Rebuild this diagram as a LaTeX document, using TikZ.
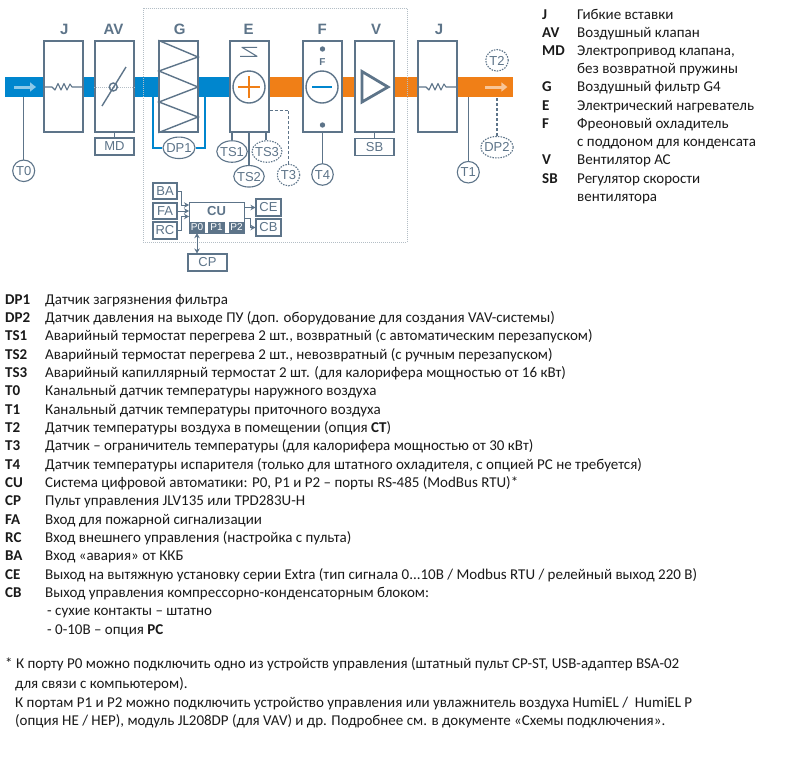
\documentclass[tikz,border=0pt]{standalone}
\usepackage{fontspec}
\setmainfont{Carlito}
\newfontfamily\diagfont{Liberation Sans}
\usetikzlibrary{arrows.meta,shapes.geometric}
\definecolor{slate}{HTML}{5D7489}
\definecolor{band1}{HTML}{0086CE}
\definecolor{band2}{HTML}{F07F17}
\definecolor{frameg}{HTML}{B4BEC6}
\definecolor{txt}{HTML}{1A1A1A}
\newcommand\ct[1]{\raisebox{-4.7pt}[0pt][0pt]{\makebox[0pt]{#1}}}
\tikzset{
 x=1pt,y=-1pt,
 unit/.style={draw=slate,line width=1.4pt,rectangle,inner sep=0pt,minimum width=39pt,minimum height=91pt,fill=white},
 ttl/.style={font=\diagfont\bfseries\fontsize{15}{15}\selectfont,text=slate,inner sep=0pt},
 lbl/.style={draw=slate,line width=1.1pt,rectangle,inner sep=0pt,font=\diagfont\fontsize{13}{13}\selectfont,text=slate,fill=white},
 sens/.style={draw=slate,line width=1.1pt,ellipse,inner sep=0pt,font=\diagfont\fontsize{13}{13}\selectfont,text=slate,fill=white,minimum height=21.5pt},
 sensd/.style={sens,dash pattern=on 1.5pt off 1.2pt},
 port/.style={rectangle,fill=slate,text=white,inner sep=0pt,font=\diagfont\fontsize{10}{10}\selectfont,minimum height=11pt},
 wire/.style={draw=slate,line width=1.1pt,line join=round},
 sym/.style={draw=slate,line width=1.4pt},
 flow/.style={-{Stealth[length=5pt,width=5.5pt]},draw=slate,line width=.9pt},
 band/.style={rectangle,inner sep=0pt,minimum height=20pt},
 key/.style={anchor=base west,inner sep=0pt,font=\fontsize{15}{15}\selectfont\bfseries,text=txt},
 val/.style={anchor=base west,inner sep=0pt,font=\fontsize{15}{15}\selectfont,text=txt},
}
\begin{document}
\begin{tikzpicture}
\useasboundingbox (0,0) rectangle (800,777);
\fill[white] (0,0) rectangle (800,777);
% bands
\node[band,fill=band1,minimum width=225pt,anchor=west] (bandb) at (5,87) {};
\node[band,fill=band2,minimum width=245pt,anchor=west] (bando) at (268,87) {};
\draw[-{Triangle[length=6pt,width=9pt]},line width=3pt,draw=band1!45!white] (bandb.west) ++(9,0) -- ++(22,0);
\draw[-{Triangle[length=6pt,width=9pt]},line width=3pt,draw=band2!45!white] (bando.east) ++(-28,0) -- ++(22,0);
% frame
\node[draw=frameg,dash pattern=on 1pt off 1pt,line width=.8pt,rectangle,inner sep=0pt,minimum width=264pt,minimum height=234pt,anchor=north west] (frame) at (143,8) {};
% units
\node[unit] (j1) at (63.5,86.5) {};
\node[unit] (av) at (114.5,86.5) {};
\node[unit] (g) at (178.5,86.5) {};
\node[unit] (e) at (249.5,86.5) {};
\node[unit] (f) at (322.5,86.5) {};
\node[unit] (v) at (374.5,86.5) {};
\node[unit] (j2) at (437.5,86.5) {};
% titles
\node[ttl] (tj1) at (64.3,29) {J};
\node[ttl] (tav) at (113.5,29) {AV};
\node[ttl] (tg) at (179.7,29) {G};
\node[ttl] (te) at (248.7,29) {E};
\node[ttl] (tf) at (322.3,29) {F};
\node[ttl] (tv) at (376,29) {V};
\node[ttl] (tj2) at (439,29) {J};
% J symbols
\draw[wire] (j1.west|-0,87) -- (52,87) -- (55,90) -- (58,83.5) -- (61,90) -- (64,83.5) -- (67,90) -- (70,84) -- (72,87) -- (j1.east|-0,87);
\draw[wire] (j2.west|-0,87) -- (426,87) -- (429,90) -- (432,83.5) -- (435,90) -- (438,83.5) -- (441,90) -- (444,84) -- (446,87) -- (j2.east|-0,87);
% AV
\draw[frameg,dash pattern=on 1pt off 1pt,line width=.8pt] (av.west|-0,87) -- (av.east|-0,87);
\draw[sym] (102,106) -- (126,67);
\draw[sym] (113.3,87) circle (4);
% G
\draw[sym] (g.north west) -- (198,57) -- (159,71) -- (198,87) -- (159,102) -- (198,117) -- (g.south west);
% E
\draw[wire] (257,47.3) -- (242,47.3) -- (257,56.3) -- (240,56.3);
\draw[sym] (249,87) circle (16);
\draw[band2,line width=1.5pt] (238,87) -- (260,87) (249,76) -- (249,98);
% F
\fill[slate] (322.5,49) circle (2.7) (322.5,125) circle (2.7);
\node[font=\diagfont\bfseries\fontsize{10}{10}\selectfont,text=slate,inner sep=0pt] (flabel) at (322.5,62) {F};
\draw[sym] (322,87) circle (16);
\draw[band1,line width=2pt] (312,87) -- (332,87);
% V
\draw[slate,line width=2.8pt,line join=miter] (362,71.5) -- (388,87) -- (362,102) -- cycle;
% lower boxes
\node[lbl,minimum width=39pt,minimum height=17pt] (md) at (114.5,146.5) {MD};
\node[lbl,minimum width=39pt,minimum height=17pt] (sb) at (374.5,147) {SB};
\draw[wire] (av.south) -- (md.north);
\draw[wire] (v.south) -- (sb.north);
\coordinate (eb1) at (232,132);
\coordinate (eb3) at (266,132);
% sensors
\node[sens,minimum width=22pt] (t0) at (23.7,170.8) {\ct{T0}};
\node[sens,minimum width=32pt] (dp1) at (179,147.8) {\ct{DP1}};
\node[sens,minimum width=30.5pt] (ts1) at (232,151.5) {\ct{TS1}};
\node[sens,minimum width=30.5pt] (ts2) at (249,176.3) {\ct{TS2}};
\node[sensd,minimum width=30pt] (ts3) at (267,151.5) {\ct{TS3}};
\node[sensd,minimum width=22.5pt] (t3) at (288.5,175) {\ct{T3}};
\node[sens,minimum width=21.5pt] (t4) at (322.5,174.5) {\ct{T4}};
\node[sens,minimum width=22pt] (t1) at (468.3,172.2) {\ct{T1}};
\node[sensd,minimum width=22.5pt] (t2) at (497,60.3) {\ct{T2}};
\node[sensd,minimum width=32.5pt] (dp2) at (497,147.2) {\ct{DP2}};
\draw[slate,line width=1.1pt] (t0) -- (t0|-bandb.south);
\draw[slate,line width=1.1pt] (t1) -- (t1|-bando.south);
\draw[slate,line width=1.1pt] (t4) -- (t4|-f.south);
\draw[slate,line width=1.1pt] (ts2) -- (ts2|-e.south);
\draw[slate,line width=1.1pt] (eb1) -- (eb1|-ts1.north);
\draw[slate,line width=1.1pt] (eb3) -- (eb3|-ts3.north);
\draw[slate,line width=1pt,densely dashed] (e.east|-0,110) -| (t3.north);
\draw[slate,line width=1.4pt,densely dashed] (dp2.north) -- (dp2|-bando.south);
\draw[band1,line width=1.4pt] (153,97) |- (dp1.west);
\draw[band1,line width=1.4pt] (205,97) |- (dp1.east);
% control
\node[lbl,minimum width=24pt,minimum height=16pt] (ba) at (165,191) {BA};
\node[lbl,minimum width=24pt,minimum height=16pt] (fa) at (165,211) {FA};
\node[lbl,minimum width=24pt,minimum height=17pt] (rc) at (165,230.5) {RC};
\node[lbl,minimum width=25pt,minimum height=17pt] (ce) at (268.5,207.5) {CE};
\node[lbl,minimum width=25pt,minimum height=17pt] (cb) at (268.5,227.5) {CB};
\node[lbl,minimum width=39pt,minimum height=17pt] (cp) at (207.5,262.5) {CP};
\node[draw=slate,line width=1.1pt,rectangle,inner sep=0pt,minimum width=55pt,minimum height=31pt,anchor=north west,fill=white] (cu) at (189,202) {};
\node[ttl,font=\diagfont\bfseries\fontsize{13}{13}\selectfont,anchor=center] (cutxt) at (216.5,211) {CU};
\node[port,minimum width=16pt] (p0) at (197,227.5) {P0};
\node[port,minimum width=17pt] (p1) at (216.5,227.5) {P1};
\node[port,minimum width=15pt] (p2) at (236.5,227.5) {P2};
\draw[flow] (ba.east) -- (181,191) -- (181,205) -- (cu.west|-0,205);
\draw[flow] (fa.east) -- (cu.west|-fa);
\draw[flow] (rc.east) -- (181,230.5) -- (181,216.5) -- (cu.west|-0,216.5);
\draw[flow] (cu.east|-ce) -- (ce.west);
\draw[flow] (cu.east|-0,218) -- (250,218) -- (250,227.5) -- (cb.west);
\draw[{Stealth[length=5pt,width=5.5pt]}-{Stealth[length=5pt,width=5.5pt]},draw=slate,line width=.9pt] (p0.south) -- (p0.south|-cp.north);
% right legend
\foreach \k/\t/\y/\n in {J/Гибкие вставки/19/a,AV/Воздушный клапан/37/b,MD/{Электропривод клапана,}/55/c,/без возвратной пружины/73/d,G/Воздушный фильтр G4/91/e,E/Электрический нагреватель/110/f,F/Фреоновый охладитель/128/g,/с поддоном для конденсата/146/h,V/Вентилятор АС/164/i,SB/Регулятор скорости/183/j,/вентилятора/201/k}{
 \node[key] (rk\n) at (542,\y) {\k};
 \node[val] (rv\n) at (577,\y) {\t};
}
% left list
\node[key] (k1) at (5,304) {DP1}; \node[val] (v1) at (45,304) {Датчик загрязнения фильтра};
\node[key] (k2) at (5,322) {DP2}; \node[val] (v2) at (45,322) {Датчик давления на выходе ПУ (доп. оборудование для создания VAV-системы)};
\node[key] (k3) at (5,340) {TS1}; \node[val] (v3) at (45,340) {Аварийный термостат перегрева 2 шт., возвратный (с автоматическим перезапуском)};
\node[key] (k4) at (5,359) {TS2}; \node[val] (v4) at (45,359) {Аварийный термостат перегрева 2 шт., невозвратный (с ручным перезапуском)};
\node[key] (k5) at (5,377) {TS3}; \node[val] (v5) at (45,377) {Аварийный капиллярный термостат 2 шт. (для калорифера мощностью от 16 кВт)};
\node[key] (k6) at (5,395) {T0}; \node[val] (v6) at (45,395) {Канальный датчик температуры наружного воздуха};
\node[key] (k7) at (5,414) {T1}; \node[val] (v7) at (45,414) {Канальный датчик температуры приточного воздуха};
\node[key] (k8) at (5,432) {T2}; \node[val] (v8) at (45,432) {Датчик температуры воздуха в помещении (опция \textbf{СТ})};
\node[key] (k9) at (5,450) {T3}; \node[val] (v9) at (45,450) {Датчик – ограничитель температуры (для калорифера мощностью от 30 кВт)};
\node[key] (k10) at (5,469) {T4}; \node[val] (v10) at (45,469) {Датчик температуры испарителя (только для штатного охладителя, с опцией РС не требуется)};
\node[key] (k11) at (5,487) {CU}; \node[val] (v11) at (45,487) {Система цифровой автоматики: P0, P1 и P2 – порты RS-485 (ModBus RTU)*};
\node[key] (k12) at (5,505) {CP}; \node[val] (v12) at (45,505) {Пульт управления JLV135 или TPD283U-H};
\node[key] (k13) at (5,524) {FA}; \node[val] (v13) at (45,524) {Вход для пожарной сигнализации};
\node[key] (k14) at (5,542) {RC}; \node[val] (v14) at (45,542) {Вход внешнего управления (настройка с пульта)};
\node[key] (k15) at (5,560) {BA}; \node[val] (v15) at (45,560) {Вход «авария» от ККБ};
\node[key] (k16) at (5,579) {CE}; \node[val] (v16) at (45,579) {Выход на вытяжную установку серии Extra (тип сигнала 0...10В / Modbus RTU / релейный выход 220 В)};
\node[key] (k17) at (5,597) {CB}; \node[val] (v17) at (45,597) {Выход управления компрессорно-конденсаторным блоком:};
\node[val] (v18) at (47,615) {- сухие контакты – штатно};
\node[val] (v19) at (47,634) {- 0-10В – опция \textbf{РС}};
% footnote
\node[val] (n1) at (5,668) {* К порту Р0 можно подключить одно из устройств управления (штатный пульт CP-ST, USB-адаптер BSA-02};
\node[val] (n2) at (15,688) {для связи с компьютером).};
\node[val] (n3) at (15,707) {К портам Р1 и Р2 можно подключить устройство управления или увлажнитель воздуха HumiEL /\ \ HumiEL P};
\node[val] (n4) at (15,725) {(опция HE / HEP), модуль JL208DP (для VAV) и др. Подробнее см. в документе «Схемы подключения».};
\end{tikzpicture}
\end{document}
